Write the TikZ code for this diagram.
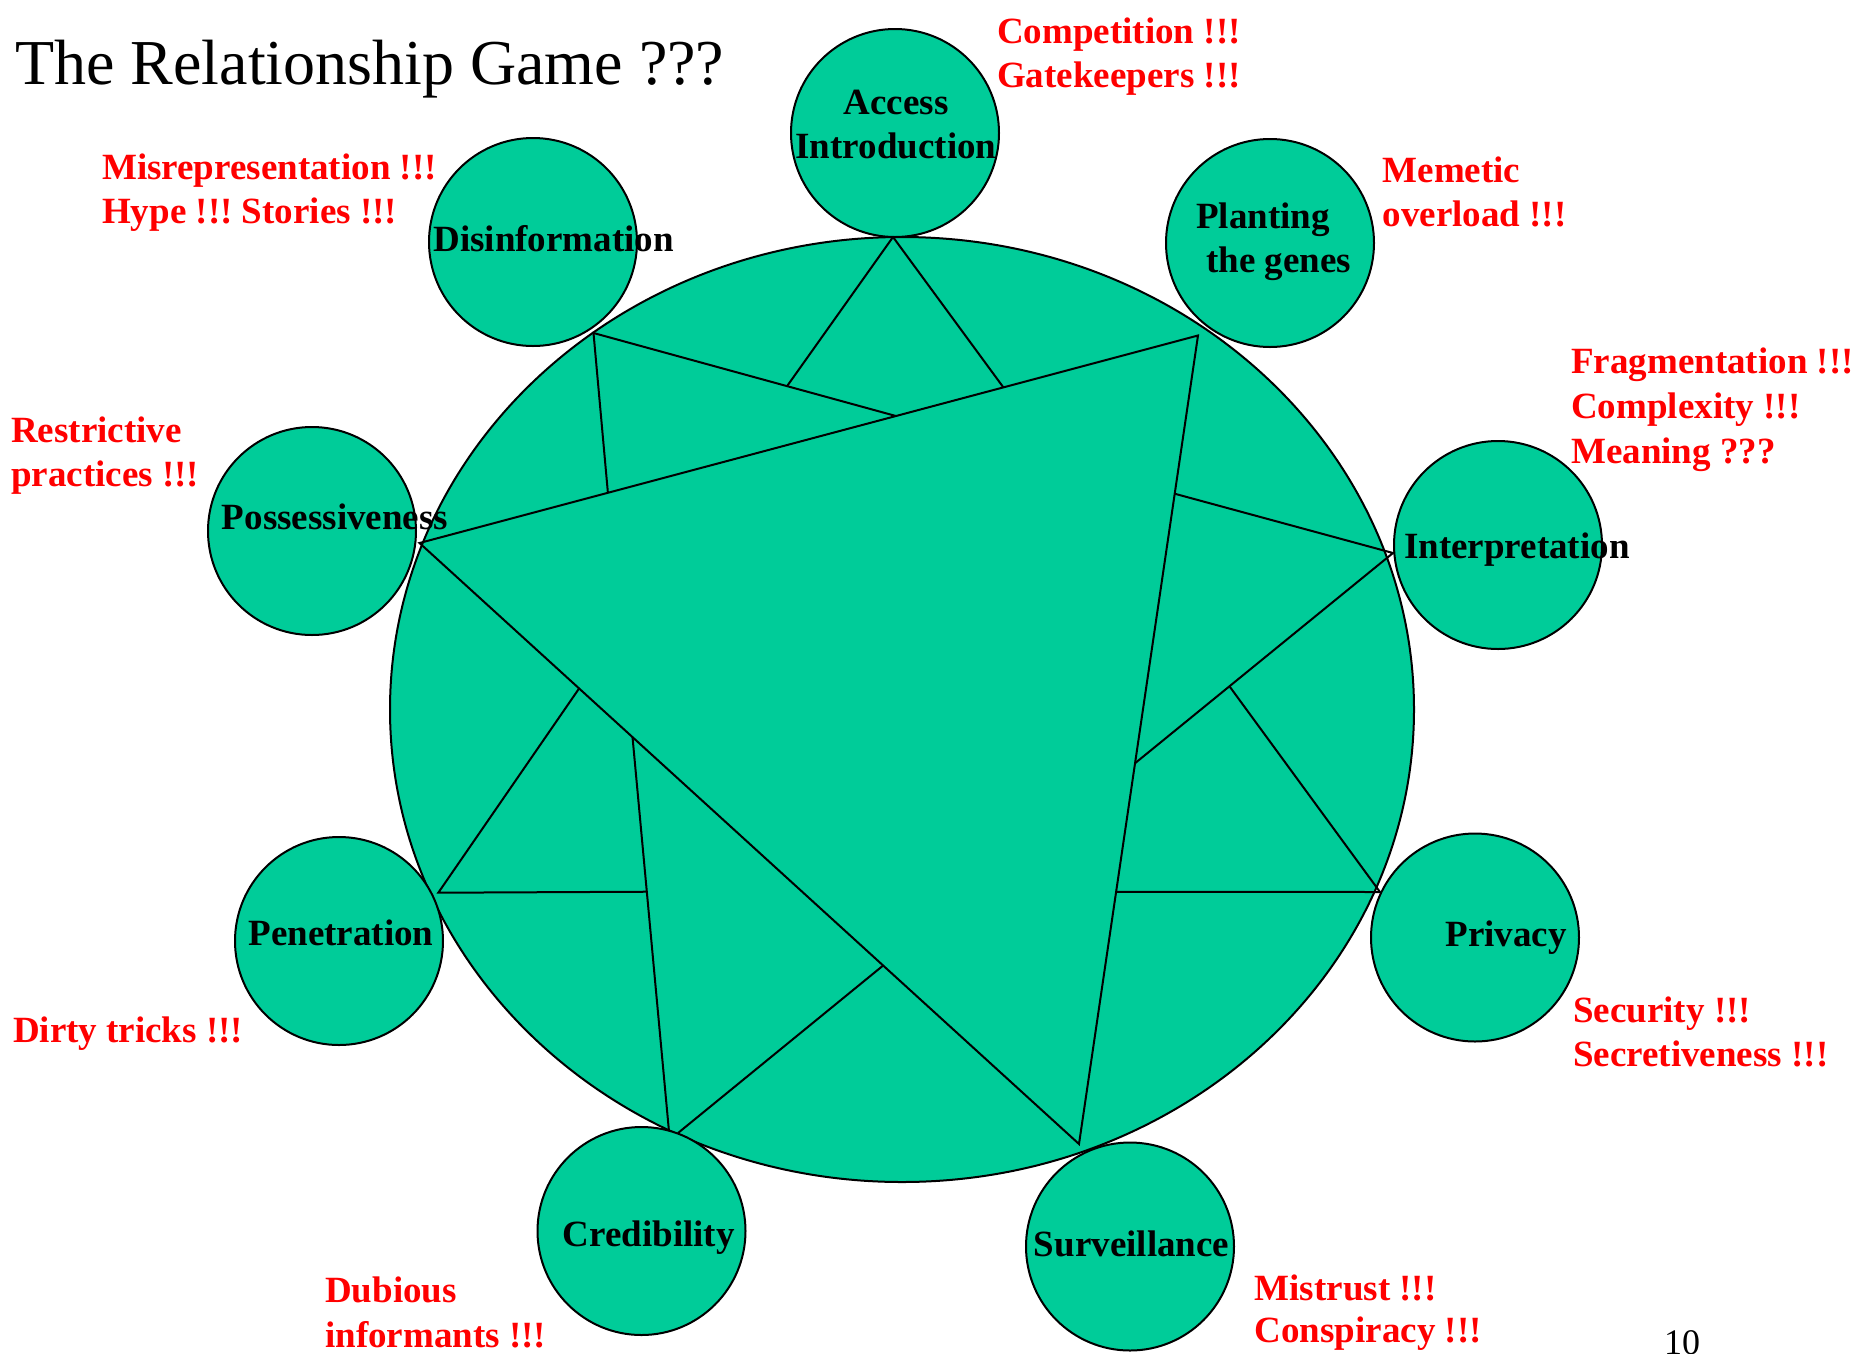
\documentclass[tikz,border=0pt]{standalone}
\usepackage{fontspec}
\setmainfont{Liberation Serif}
\usetikzlibrary{calc,shapes.geometric}
\definecolor{jade}{RGB}{0,204,153}
\definecolor{alarm}{RGB}{255,0,0}
\frenchspacing
\tikzset{
  bigshape/.style={ellipse,draw=black,fill=jade,line width=2pt,minimum width=1024pt,minimum height=945pt,inner sep=0pt},
  smallc/.style={circle,draw=black,fill=jade,line width=2pt,minimum size=208pt,inner sep=0pt},
  edge/.style={draw=black,line width=2pt,line join=miter},
  redtxt/.style={text=alarm,font=\fontsize{37}{44}\selectfont\bfseries\frenchspacing,inner sep=0pt,anchor=base west},
  lbl/.style={text=black,font=\fontsize{37}{44}\selectfont\bfseries,inner sep=0pt,anchor=base},
  lbll/.style={lbl,anchor=base west},
  titletxt/.style={text=black,font=\fontsize{64}{70}\selectfont,inner sep=0pt,anchor=base west},
  pagenum/.style={text=black,font=\fontsize{36}{40}\selectfont,inner sep=0pt,anchor=base west}
}
\begin{document}
\begin{tikzpicture}[x=1pt,y=-1pt]
\useasboundingbox (0,0) rectangle (1856,1353);
\fill[white] (0,0) rectangle (1856,1353);

% big shape
\node[bigshape] (big) at (902,709.5) {};

% vertices on the big shape
\coordinate (vA)  at (893,237);
\coordinate (vD)  at (593.5,333);
\coordinate (vP)  at (419.5,543);
\coordinate (vG)  at (1198,335.5);
\coordinate (vI)  at (1393,553);
\coordinate (vPr) at (1380,892);
\coordinate (vS)  at (1079,1144);
\coordinate (vC)  at (669,1131.5);
\coordinate (vCb) at (678,1133);
\coordinate (vPe) at (438.3,892.7);

% points on the inner lines
\coordinate (d1) at ($(vP)!0.612!(vG)$);
\coordinate (d2) at ($(vP)!0.242!(vG)$);
\coordinate (a1) at ($(vD)!0.640!(d1)$);
\coordinate (a2) at ($(vP)!0.750!(vG)$);
\coordinate (i1) at ($(vG)!0.1957!(vS)$);
\coordinate (i2) at ($(vG)!0.529!(vS)$);
\coordinate (p1) at ($(vI)!0.634!(i2)$);
\coordinate (p2) at ($(vG)!0.688!(vS)$);
\coordinate (c1) at ($(vP)!0.323!(vS)$);
\coordinate (c2) at ($(vP)!0.703!(vS)$);
\coordinate (e1) at ($(vP)!0.242!(vS)$);
\coordinate (e2) at ($(vC)!0.608!(c1)$);

% big triangle
\draw[edge] (vP) -- (vG) -- (vS) -- cycle;
% access
\draw[edge] (a1) -- (vA) -- (a2);
% disinformation
\draw[edge] (d1) -- (vD) -- (d2);
% interpretation
\draw[edge] (i1) -- (vI) -- (i2);
% privacy
\draw[edge] (p1) -- (vPr) -- (p2);
% credibility
\draw[edge] (c1) -- (vC);
\draw[edge] (vCb) -- (c2);
% penetration
\draw[edge] (e1) -- (vPe) -- (e2);

% small circles
\node[smallc] (cA)  at (895,133) {};
\node[smallc] (cD)  at (533,242) {};
\node[smallc] (cG)  at (1270,243) {};
\node[smallc] (cP)  at (312,531) {};
\node[smallc] (cI)  at (1498,545) {};
\node[smallc] (cPr) at (1475,937.5) {};
\node[smallc] (cS)  at (1130,1246.5) {};
\node[smallc] (cC)  at (641.5,1231) {};
\node[smallc] (cPe) at (339,941) {};

% circle labels
\node[lbl] (lA1) at (896,114) {Access};
\node[lbl] (lA2) at (896,158.8) {Introduction};
\node[lbl] (lD) at (553.6,251) {Disinformation};
\node[lbll] (lG1) at (1196,228.5) {Planting};
\node[lbll] (lG2) at (1206,272.5) {the genes};
\node[lbl] (lP) at (335,529.3) {Possessiveness};
\node[lbll] (lI) at (1404,558.7) {Interpretation};
\node[lbl] (lPr) at (1506,946.8) {Privacy};
\node[lbl] (lS) at (1131.6,1256.6) {Surveillance};
\node[lbl] (lC) at (648.7,1246) {Credibility};
\node[lbl] (lPe) at (341,945.8) {Penetration};

% red annotations
\node[redtxt] (rA1) at (997,43) {Competition !!!};
\node[redtxt] (rA2) at (997,87) {Gatekeepers !!!};
\node[redtxt] (rD1) at (102,179) {Misrepresentation !!!};
\node[redtxt] (rD2) at (102,223) {Hype !!! Stories !!!};
\node[redtxt] (rG1) at (1382.5,182.5) {Memetic};
\node[redtxt] (rG2) at (1382.5,226.6) {overload !!!};
\node[redtxt] (rI1) at (1571,373) {Fragmentation !!!};
\node[redtxt] (rI2) at (1571,418) {Complexity !!!};
\node[redtxt] (rI3) at (1571,463) {Meaning ???};
\node[redtxt] (rP1) at (11,442) {Restrictive};
\node[redtxt] (rP2) at (11,486) {practices !!!};
\node[redtxt] (rPe) at (12.8,1042) {Dirty tricks !!!};
\node[redtxt] (rC1) at (325,1302.7) {Dubious};
\node[redtxt] (rC2) at (325,1347) {informants !!!};
\node[redtxt] (rS1) at (1254.5,1300) {Mistrust !!!};
\node[redtxt] (rS2) at (1254.5,1342) {Conspiracy !!!};
\node[redtxt] (rPr1) at (1573,1022.7) {Security !!!};
\node[redtxt] (rPr2) at (1573,1066) {Secretiveness !!!};

% title and page number
\node[titletxt] (title) at (15,84) {The Relationship Game ???};
\node[pagenum] (pg) at (1664,1354) {10};
\end{tikzpicture}
\end{document}
